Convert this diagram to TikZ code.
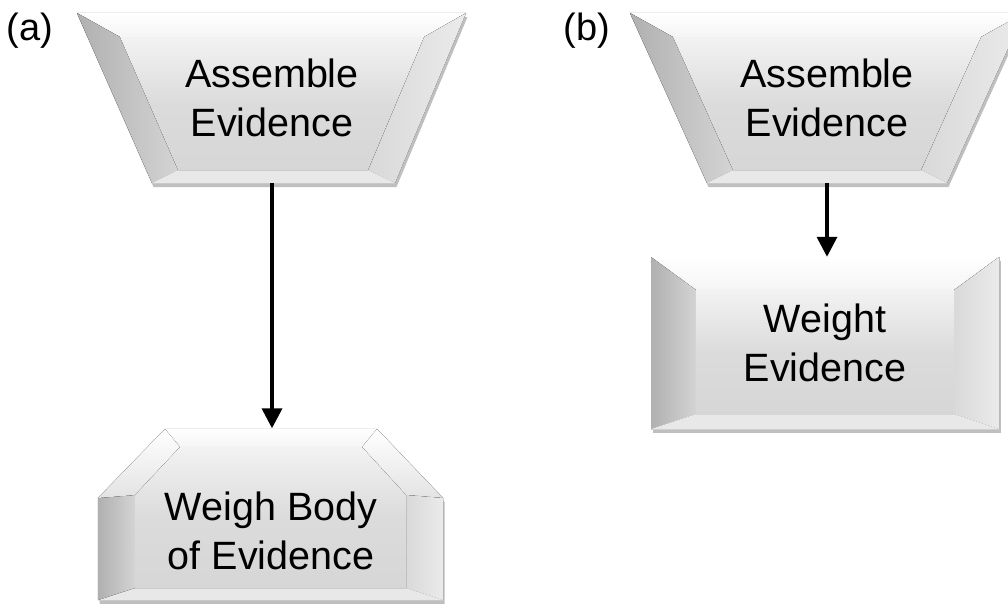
\documentclass[tikz,border=0pt]{standalone}
\usepackage{fontspec}
\setmainfont{Liberation Sans}
\usetikzlibrary{arrows.meta,shadows}

\tikzset{
  box/.style={align=center, font=\fontsize{39.5}{49}\selectfont, inner sep=0pt},
  tag/.style={font=\fontsize{38}{40}\selectfont, inner sep=0pt},
  outer/.style={fill=black!15, draw=black!20, line width=0.6pt,
    drop shadow={shadow xshift=1.5pt, shadow yshift=-4pt, opacity=0.25, fill=black}},
  face/.style={top color=black!5, bottom color=black!16, middle color=black!14},
  topf/.style={top color=white, bottom color=black!4},
  slantf/.style={top color=white, bottom color=black!11},
  leftf/.style={left color=black!31, right color=black!17},
  rightf/.style={left color=black!15, right color=black!8},
  botf/.style={fill=black!9},
  flow/.style={line width=3.5pt, -{Triangle[width=20pt,length=20pt]}}
}

\begin{document}
\begin{tikzpicture}[x=1pt,y=-1pt]
\useasboundingbox (0,0) rectangle (1008,603);
\clip (0,0) rectangle (1008,603);

% (a) assemble
\path[outer] (77,13) -- (466,13) -- (395,183) -- (152,183) -- cycle;
\fill[topf] (77,13) -- (466,13) -- (424,37) -- (120,37) -- cycle;
\fill[leftf] (77,13) -- (120,37) -- (178,170) -- (152,183) -- cycle;
\fill[rightf] (466,13) -- (395,183) -- (368,170) -- (424,37) -- cycle;
\fill[botf] (152,183) -- (178,170) -- (368,170) -- (395,183) -- cycle;
\fill[face] (120,37) -- (424,37) -- (368,170) -- (178,170) -- cycle;

% (a) weigh
\path[outer] (165,429) -- (377,429) -- (443,498) -- (443,600) -- (98,600) -- (98,498) -- cycle;
\fill[topf] (165,429) -- (377,429) -- (362,447) -- (180,447) -- cycle;
\fill[slantf] (377,429) -- (443,498) -- (406,495) -- (362,447) -- cycle;
\fill[rightf] (443,498) -- (443,600) -- (406,588) -- (406,495) -- cycle;
\fill[botf] (443,600) -- (98,600) -- (135,588) -- (406,588) -- cycle;
\fill[leftf] (98,600) -- (98,498) -- (135,495) -- (135,588) -- cycle;
\fill[slantf] (98,498) -- (165,429) -- (180,447) -- (135,495) -- cycle;
\fill[face] (180,447) -- (362,447) -- (406,495) -- (406,588) -- (135,588) -- (135,495) -- cycle;

% (b) assemble
\path[outer] (630,13) -- (1024,13) -- (947,183) -- (707,183) -- cycle;
\fill[topf] (630,13) -- (1024,13) -- (981,37) -- (673,37) -- cycle;
\fill[leftf] (630,13) -- (673,37) -- (733,170) -- (707,183) -- cycle;
\fill[rightf] (1024,13) -- (947,183) -- (921,170) -- (981,37) -- cycle;
\fill[botf] (707,183) -- (733,170) -- (921,170) -- (947,183) -- cycle;
\fill[face] (673,37) -- (981,37) -- (921,170) -- (733,170) -- cycle;

% (b) weight
\path[outer] (651,257) rectangle (999,429);
\fill[topf] (651,257) -- (999,257) -- (954,290) -- (696,290) -- cycle;
\fill[leftf] (651,257) -- (696,290) -- (696,414) -- (651,429) -- cycle;
\fill[rightf] (999,257) -- (999,429) -- (954,414) -- (954,290) -- cycle;
\fill[botf] (651,429) -- (696,414) -- (954,414) -- (999,429) -- cycle;
\fill[face] (696,290) rectangle (954,414);

% text
\node[box, minimum height=170] (asmA) at (272,98) {Assemble\\Evidence};
\node[box, minimum height=205] (weighA) at (271,531) {Weigh Body\\of Evidence};
\node[box, minimum height=170] (asmB) at (827,98) {Assemble\\Evidence};
\node[box, minimum height=172] (weightB) at (825,343) {Weight\\Evidence};
\node[tag] (labA) at (30,31) {(a)};
\node[tag] (labB) at (587,31) {(b)};

% arrows
\draw[flow] (asmA.south) -- (asmA.south |- weighA.north);
\draw[flow] (asmB.south) -- (asmB.south |- weightB.north);
\end{tikzpicture}
\end{document}
